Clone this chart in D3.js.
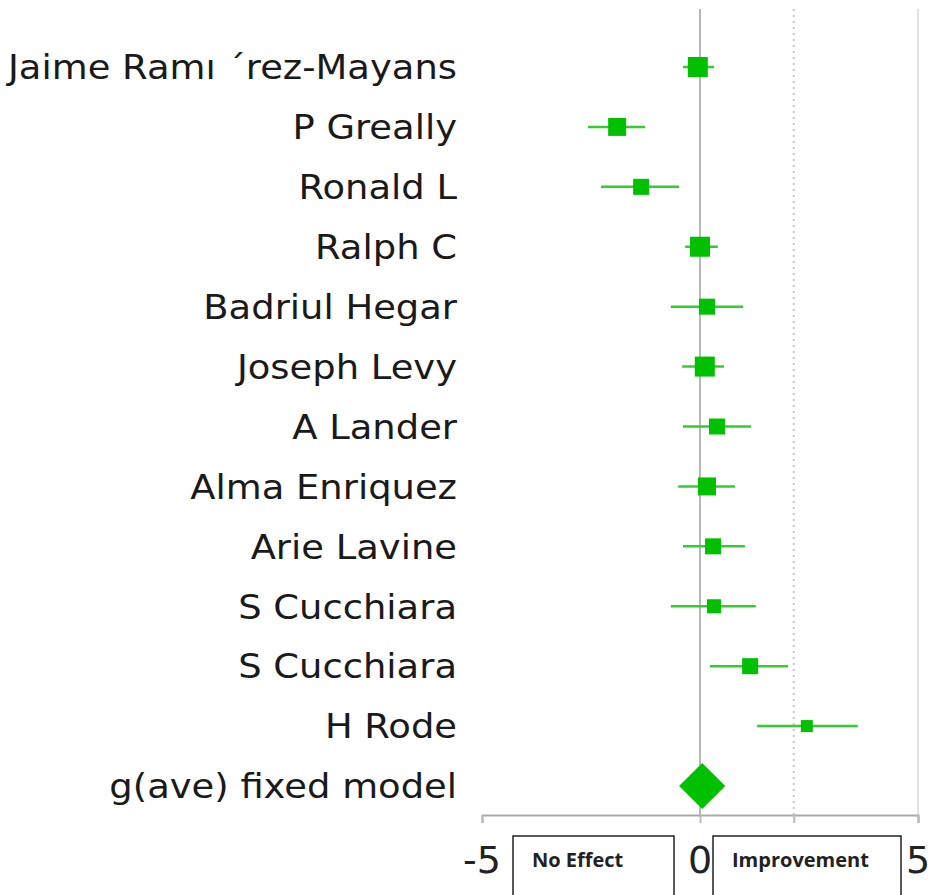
<!DOCTYPE html>
<html>
<head>
<meta charset="utf-8">
<script src="https://cdn.jsdelivr.net/npm/d3@7"></script>
<style>
  body { margin: 0; background: #fff; }
</style>
</head>
<body>
<div id="chart"></div>
<script>
// study names, top to bottom
var studies = ["Jaime Ramı ´rez-Mayans", "P Greally", "Ronald L", "Ralph C", "Badriul Hegar",
    "Joseph Levy", "A Lander", "Alma Enriquez", "Arie Lavine", "S Cucchiara", "S Cucchiara", "H Rode"];
// effect size and confidence interval
var effect = [-0.05, -1.9, -1.35, 0.0, 0.16, 0.11, 0.39, 0.16, 0.3, 0.32, 1.15, 2.45];
var lower = [-0.39, -2.57, -2.27, -0.34, -0.67, -0.41, -0.39, -0.5, -0.39, -0.67, 0.23, 1.31];
var upper = [0.32, -1.26, -0.48, 0.41, 0.99, 0.55, 1.17, 0.8, 1.03, 1.28, 2.02, 3.62];
var weight = [10, 8.1, 6.4, 10, 6.4, 10, 6.4, 8.1, 6.4, 4.9, 6.4, 3.6];
// pooled estimate
var pooledLabel = "g(ave) fixed model";
var pooled = { est: 0.05, lo: -0.48, hi: 0.58 };
var tickValues = [-5, 0, 5];
var refLine = 2.15;
var boxLabels = ["No Effect", "Improvement"];

var W = 932, H = 895;
var svg = d3.select("#chart").append("svg")
    .attr("width", W)
    .attr("height", H)
    .style("font-family", "DejaVu Sans, Verdana, sans-serif");

var green = "#00c000";
var lineGreen = "#33cc33";

var x = d3.scaleLinear().domain([-5, 5]).range([482, 918]);
var rows = studies.concat([pooledLabel]);
var y = d3.scalePoint().domain(d3.range(rows.length)).range([67, 786]);
var size = d3.scaleSqrt().domain([0, 10]).range([0, 20]);
var axisY = 815, topY = 9;

// vertical guide lines
svg.append("line")
    .attr("x1", x(5)).attr("x2", x(5))
    .attr("y1", topY).attr("y2", axisY)
    .attr("stroke", "#e0e0e0").attr("stroke-width", 2);
svg.append("line")
    .attr("x1", x(refLine)).attr("x2", x(refLine))
    .attr("y1", topY).attr("y2", axisY)
    .attr("stroke", "#c8c8c8").attr("stroke-width", 2)
    .attr("stroke-dasharray", "2,4");
svg.append("line")
    .attr("x1", x(0)).attr("x2", x(0))
    .attr("y1", topY).attr("y2", axisY)
    .attr("stroke", "#b8b8b8").attr("stroke-width", 2);

// x axis
var xAxis = svg.append("g")
    .attr("transform", "translate(0," + axisY + ")")
    .call(d3.axisBottom(x).tickValues(tickValues.concat([refLine])).tickSize(8).tickFormat(""));
xAxis.select(".domain").attr("stroke", "#aaa").attr("stroke-width", 2);
xAxis.selectAll(".tick line").attr("stroke", "#bbb").attr("stroke-width", 2);

svg.selectAll(".xlab")
    .data(tickValues)
    .enter().append("text")
    .attr("class", "xlab")
    .attr("x", function (d) { return x(d); })
    .attr("y", 873)
    .attr("text-anchor", "middle")
    .attr("font-size", 38)
    .attr("fill", "#222")
    .text(function (d) { return d < 0 ? "-" + Math.abs(d) : d; });

// boxes under the axis
var boxes = [[513, 674], [713, 901]];
boxes.forEach(function (b, i) {
    svg.append("rect")
        .attr("x", b[0]).attr("y", 836)
        .attr("width", b[1] - b[0]).attr("height", 80)
        .attr("fill", "#fff").attr("stroke", "#222").attr("stroke-width", 1.5);
    svg.append("text")
        .attr("x", b[0] + 19).attr("y", 867)
        .attr("font-family", "Open Sans, sans-serif")
        .attr("font-weight", "bold")
        .attr("font-size", 20)
        .attr("fill", "#222")
        .text(boxLabels[i]);
});

// row labels (slightly stretched like the original)
svg.selectAll(".rowlab")
    .data(rows)
    .enter().append("text")
    .attr("class", "rowlab")
    .attr("transform", function (d, i) { return "translate(457," + y(i) + ") scale(1.085,1)"; })
    .attr("dy", "0.36em")
    .attr("text-anchor", "end")
    .attr("font-size", 34)
    .attr("fill", "#1a1a1a")
    .text(function (d) { return d; });

// confidence intervals
svg.selectAll(".ci")
    .data(studies)
    .enter().append("line")
    .attr("class", "ci")
    .attr("x1", function (d, i) { return x(lower[i]); })
    .attr("x2", function (d, i) { return x(upper[i]); })
    .attr("y1", function (d, i) { return y(i); })
    .attr("y2", function (d, i) { return y(i); })
    .attr("stroke", lineGreen)
    .attr("stroke-width", 2.5);

// point estimates
svg.selectAll(".pt")
    .data(studies)
    .enter().append("rect")
    .attr("class", "pt")
    .attr("x", function (d, i) { return x(effect[i]) - size(weight[i]) / 2; })
    .attr("y", function (d, i) { return y(i) - size(weight[i]) / 2; })
    .attr("width", function (d, i) { return size(weight[i]); })
    .attr("height", function (d, i) { return size(weight[i]); })
    .attr("fill", green);

// pooled diamond
var py = y(rows.length - 1);
svg.append("path")
    .attr("d", "M" + x(pooled.lo) + "," + py +
        "L" + x(pooled.est) + "," + (py - 23) +
        "L" + x(pooled.hi) + "," + py +
        "L" + x(pooled.est) + "," + (py + 23) + "Z")
    .attr("fill", green);
</script>
</body>
</html>
